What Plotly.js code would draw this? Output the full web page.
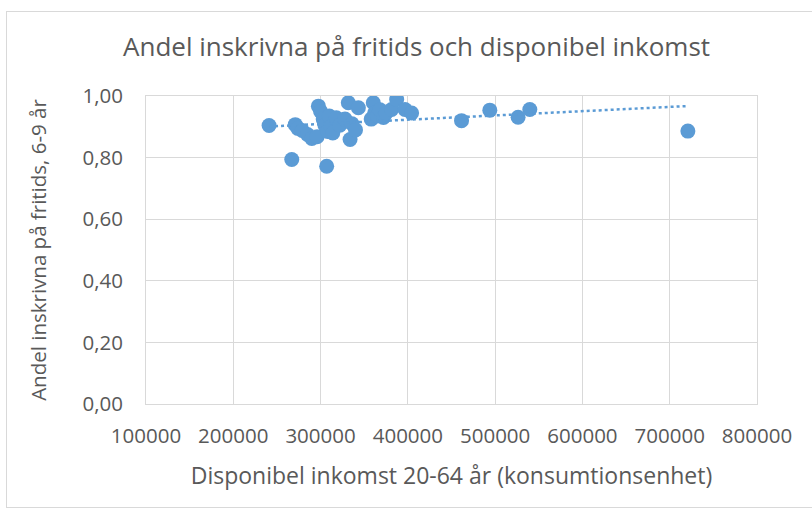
<!DOCTYPE html>
<html>
<head>
<meta charset="utf-8">
<script src="https://cdn.plot.ly/plotly-3.0.1.min.js"></script>
<style>
  html, body { margin: 0; padding: 0; background: #ffffff; }
  #wrap { position: relative; width: 812px; height: 518px; overflow: hidden; }
  #chart { position: absolute; left: 0; top: 0; width: 812px; height: 518px; }
  #frame { position: absolute; left: 6px; top: 11px; width: 820px; height: 497px; border: 1px solid #d9d9d9; box-sizing: border-box; pointer-events: none; }
</style>
</head>
<body>
<div id="wrap">
  <div id="chart"></div>
  <div id="frame"></div>
</div>
<script>
// Disponibel inkomst 20-64 år (konsumtionsenhet)
const income = [
  241000, 267000, 271000, 274000, 279000, 285000, 290000, 296000, 297500, 300000,
  303000, 305000, 307000, 308000, 310000, 312000, 314000, 318000, 322000, 328000,
  331800, 333800, 336000, 340000, 343300, 358000, 360400, 362000, 365000, 368000,
  372000, 375000, 381400, 387200, 396700, 404300, 461500, 493900, 526300, 539700,
  720800
];
// Andel inskrivna på fritids, 6-9 år
const share = [
  0.904, 0.794, 0.907, 0.895, 0.888, 0.875, 0.862, 0.868, 0.967, 0.950,
  0.925, 0.905, 0.772, 0.885, 0.935, 0.900, 0.880, 0.929, 0.905, 0.925,
  0.978, 0.859, 0.910, 0.890, 0.962, 0.925, 0.978, 0.945, 0.935, 0.955,
  0.930, 0.945, 0.956, 0.989, 0.956, 0.945, 0.920, 0.954, 0.931, 0.956,
  0.886
];
const xTickVals = [100000, 200000, 300000, 400000, 500000, 600000, 700000, 800000];
const xTickText = ["100000", "200000", "300000", "400000", "500000", "600000", "700000", "800000"];
const yTickVals = [0, 0.2, 0.4, 0.6, 0.8, 1.0];
const yTickText = ["0,00", "0,20", "0,40", "0,60", "0,80", "1,00"];

// Linear trendline (least squares) over the data
const n = income.length;
let sx = 0, sy = 0, sxx = 0, sxy = 0;
for (let i = 0; i < n; i++) { sx += income[i]; sy += share[i]; sxx += income[i]*income[i]; sxy += income[i]*share[i]; }
const slope = (n*sxy - sx*sy) / (n*sxx - sx*sx);
const icpt = (sy - slope*sx) / n;
const xMin = Math.min(...income), xMax = Math.max(...income);
const trendX = [xMin, xMax];
const trendY = trendX.map(v => icpt + slope*v);

const FONT = "Open Sans, DejaVu Sans, sans-serif";
const GREY = "#595959";
const BLUE = "#5b9bd5";

const traces = [
  {
    x: income, y: share, type: "scatter", mode: "markers",
    marker: { color: BLUE, size: 15, line: { width: 0 } },
    hoverinfo: "x+y", showlegend: false
  },
  {
    x: trendX, y: trendY, type: "scatter", mode: "lines",
    line: { color: BLUE, width: 2.5, dash: "dot" },
    hoverinfo: "skip", showlegend: false
  }
];

const layout = {
  width: 812, height: 518,
  paper_bgcolor: "#ffffff", plot_bgcolor: "#ffffff",
  margin: { l: 146, r: 55, t: 96, b: 114 },
  font: { family: FONT, color: GREY, size: 20 },
  title: {
    text: "Andel inskrivna på fritids och disponibel inkomst",
    font: { family: FONT, size: 26, color: GREY },
    x: 0.513, xanchor: "center", y: 0.91, yanchor: "middle"
  },
  xaxis: {
    range: [100000, 800000],
    tickvals: xTickVals, ticktext: xTickText,
    showgrid: true, gridcolor: "#d9d9d9", gridwidth: 1,
    zeroline: false, showline: true, linecolor: "#d9d9d9", linewidth: 1, mirror: true,
    ticks: "", ticklabelstandoff: 13,
    tickfont: { family: FONT, size: 20.5, color: GREY },
    title: { text: "Disponibel inkomst 20-64 år (konsumtionsenhet)", font: { family: FONT, size: 23, color: GREY }, standoff: 20 }
  },
  yaxis: {
    range: [0, 1],
    tickvals: yTickVals, ticktext: yTickText,
    showgrid: true, gridcolor: "#d9d9d9", gridwidth: 1,
    zeroline: false, showline: true, linecolor: "#d9d9d9", linewidth: 1, mirror: true,
    ticks: "", ticklabelstandoff: 18,
    tickfont: { family: FONT, size: 20.5, color: GREY },
    title: { text: "Andel inskrivna på fritids, 6-9 år", font: { family: FONT, size: 20.5, color: GREY }, standoff: 30 }
  }
};

Plotly.newPlot("chart", traces, layout, { staticPlot: true, displayModeBar: false });
</script>
</body>
</html>
